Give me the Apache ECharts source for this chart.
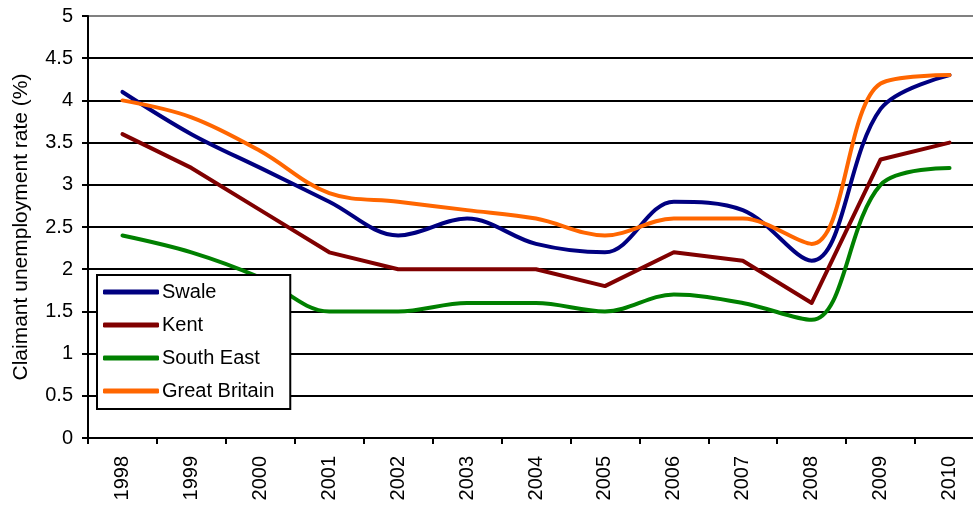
<!DOCTYPE html>
<html>
<head>
<meta charset="utf-8">
<script src="https://cdn.jsdelivr.net/npm/echarts@6/dist/echarts.min.js"></script>
<style>
  html, body { margin: 0; padding: 0; background: #fff; }
  #chart { width: 973px; height: 508px; }
</style>
</head>
<body>
<div id="chart"></div>
<script>
const years = ['1998', '1999', '2000', '2001', '2002', '2003', '2004', '2005', '2006', '2007', '2008', '2009', '2010']
const swale = [4.1, 3.6, 3.2, 2.8, 2.4, 2.6, 2.3, 2.2, 2.8, 2.7, 2.1, 3.9, 4.3]
const kent = [3.6, 3.2, 2.7, 2.2, 2.0, 2.0, 2.0, 1.8, 2.2, 2.1, 1.6, 3.3, 3.5]
const southEast = [2.4, 2.2, 1.9, 1.5, 1.5, 1.6, 1.6, 1.5, 1.7, 1.6, 1.4, 3.0, 3.2]
const greatBritain = [4.0, 3.8, 3.4, 2.9, 2.8, 2.7, 2.6, 2.4, 2.6, 2.6, 2.3, 4.2, 4.3]

const chart = echarts.init(document.getElementById('chart'), null, { renderer: 'canvas' })

const font = "'Liberation Sans', Arial, sans-serif"

const makeLine = (name, data, color, smooth) => ({
  name,
  type: 'line',
  data,
  smooth,
  symbol: 'none',
  lineStyle: { width: 4, color, cap: 'round', join: 'round' },
  itemStyle: { color },
  z: 3
})

const option = {
  animation: false,
  grid: {
    left: 88,
    right: -11,
    top: 16,
    bottom: 70,
    outerBoundsMode: 'none'
  },
  legend: {
    orient: 'vertical',
    left: 97,
    top: 275,
    itemWidth: 56,
    itemHeight: 5,
    itemGap: 13,
    icon: 'roundRect',
    borderColor: '#000',
    borderWidth: 2,
    padding: [7, 16, 8, 6],
    backgroundColor: '#fff',
    textStyle: { fontFamily: font, fontSize: 20, lineHeight: 20, color: '#000', padding: [0, 0, 0, -2] },
    data: ['Swale', 'Kent', 'South East', 'Great Britain']
  },
  xAxis: {
    type: 'category',
    data: years,
    boundaryGap: true,
    axisLine: { lineStyle: { color: '#000', width: 2 } },
    axisTick: { show: true, length: 6, lineStyle: { color: '#000', width: 2 } },
    axisLabel: {
      rotate: 90,
      margin: 18,
      fontFamily: font,
      fontSize: 20,
      color: '#000'
    }
  },
  yAxis: {
    type: 'value',
    min: 0,
    max: 5,
    interval: 0.5,
    name: 'Claimant unemployment rate (%)',
    nameLocation: 'middle',
    nameGap: 56,
    nameTextStyle: { fontFamily: font, fontSize: 21, color: '#000' },
    axisLine: { show: true, lineStyle: { color: '#000', width: 2 } },
    axisTick: { show: true, length: 6, lineStyle: { color: '#000', width: 2 } },
    axisLabel: { fontFamily: font, fontSize: 20, color: '#000', margin: 15 },
    splitLine: {
      show: true,
      lineStyle: {
        width: 2,
        color: ['#000', '#000', '#000', '#000', '#000', '#000', '#000', '#000', '#000', '#000', '#808080']
      }
    }
  },
  series: [
    makeLine('Swale', swale, '#000080', 0.35),
    makeLine('Kent', kent, '#800000', false),
    makeLine('South East', southEast, '#008000', 0.35),
    makeLine('Great Britain', greatBritain, '#FF6600', 0.35)
  ]
}

chart.setOption(option)
</script>
</body>
</html>
